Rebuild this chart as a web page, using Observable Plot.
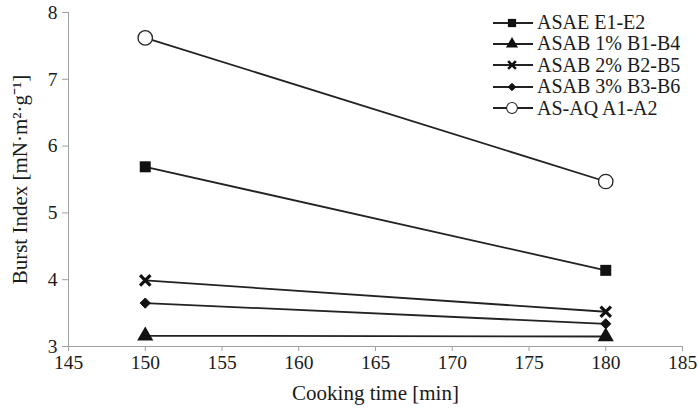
<!DOCTYPE html>
<html>
<head>
<meta charset="utf-8">
<script src="https://cdn.jsdelivr.net/npm/d3@7"></script>
<script src="https://cdn.jsdelivr.net/npm/@observablehq/plot@0.6"></script>
<style>
  html, body { margin: 0; padding: 0; background: #fff; }
  #wrap { position: relative; width: 698px; height: 412px; font-family: "Liberation Serif", "Times New Roman", serif; }
  #legend { position: absolute; left: 492px; top: 12px; font-size: 20px; color: #1a1a1a; }
  .row { display: flex; align-items: center; height: 21.4px; line-height: 21.4px; }
  .row svg { margin-right: 3px; }
  #chart svg text { font-family: "Liberation Serif", "Times New Roman", serif; }
</style>
</head>
<body>
<div id="wrap"><div id="chart"></div><div id="legend"></div></div>
<script>
const times = [150, 180];
const seriesNames = ["ASAE E1-E2", "ASAB 1% B1-B4", "ASAB 2% B2-B5", "ASAB 3% B3-B6", "AS-AQ A1-A2"];
const asae = [5.69, 4.14];
const asab1 = [3.16, 3.15];
const asab2 = [3.99, 3.52];
const asab3 = [3.65, 3.34];
const asaq = [7.62, 5.47];
const xTicks = [145, 150, 155, 160, 165, 170, 175, 180, 185];
const yTicks = [3, 4, 5, 6, 7, 8];

const values = [asae, asab1, asab2, asab3, asaq];
const styles = [
  {symbol: "square", r: 6.2, fill: "#111", stroke: "none", strokeWidth: 0},
  {symbol: "triangle", r: 6.0, fill: "#111", stroke: "none", strokeWidth: 0},
  {symbol: "times", r: 4.8, fill: "none", stroke: "#111", strokeWidth: 3.2},
  {symbol: "diamond2", r: 4.6, fill: "#111", stroke: "#111", strokeWidth: 1},
  {symbol: "circle", r: 7.2, fill: "#fff", stroke: "#222", strokeWidth: 1.3}
];

const data = [];
seriesNames.forEach((s, i) => times.forEach((t, j) => data.push({series: s, time: t, value: values[i][j], k: i})));

const marks = [
  Plot.axisX({ticks: xTicks, tickFormat: d => String(d), tickSize: 5, tickPadding: 4, stroke: "#a0a0a0", fontSize: 19.5, fill: "#1a1a1a", label: null}),
  Plot.axisY({ticks: yTicks, tickFormat: d => String(d), tickSize: 6, tickPadding: 5, stroke: "#a0a0a0", fontSize: 19.5, fill: "#1a1a1a", label: null}),
  Plot.axisX({ticks: [], label: "Cooking time [min]", labelAnchor: "center", labelArrow: "none", labelOffset: 53, fontSize: 21, fill: "#1a1a1a"}),
  Plot.axisY({ticks: [], label: "Burst Index [mN·m²·g⁻¹]", labelAnchor: "center", labelArrow: "none", labelOffset: 56, fontSize: 21, fill: "#1a1a1a"}),
  Plot.ruleX([145], {stroke: "#a0a0a0"}),
  Plot.ruleY([3], {stroke: "#a0a0a0"}),
  Plot.line(data, {x: "time", y: "value", z: "series", stroke: "#222", strokeWidth: 1.8})
];
styles.forEach((st, i) => {
  marks.push(Plot.dot(data.filter(d => d.k === i), {x: "time", y: "value", symbol: () => st.symbol, r: st.r, fill: st.fill, stroke: st.stroke, strokeWidth: st.strokeWidth}));
});

const chart = Plot.plot({
  width: 698,
  height: 412,
  marginLeft: 68,
  marginRight: 16,
  marginTop: 12,
  marginBottom: 66,
  style: {fontFamily: "Liberation Serif, Times New Roman, serif", fontSize: "19px", color: "#1a1a1a", background: "#fff"},
  x: {domain: [145, 185]},
  y: {domain: [3, 8]},
  symbol: {type: "identity"},
  marks
});
document.getElementById("chart").appendChild(chart);

// Legend
const legend = d3.select("#legend");
const symMap = {square: d3.symbolSquare, triangle: d3.symbolTriangle, times: d3.symbolTimes, diamond2: d3.symbolDiamond2, circle: d3.symbolCircle};
seriesNames.forEach((s, i) => {
  const st = styles[i];
  const row = legend.append("div").attr("class", "row");
  const svg = row.append("svg").attr("width", 42).attr("height", 18);
  svg.append("line").attr("x1", 1).attr("x2", 41).attr("y1", 9).attr("y2", 9).attr("stroke", "#222").attr("stroke-width", 1.8);
  const r = st.r * 0.75;
  svg.append("path")
    .attr("transform", "translate(20,9)")
    .attr("d", d3.symbol(symMap[st.symbol], Math.PI * r * r)())
    .attr("fill", st.fill).attr("stroke", st.stroke === "none" ? null : st.stroke).attr("stroke-width", st.strokeWidth * 0.8);
  row.append("span").text(s);
});
</script>
</body>
</html>
